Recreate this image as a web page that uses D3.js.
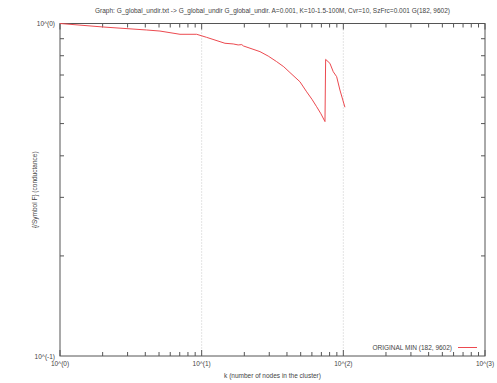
<!DOCTYPE html>
<html lang="en">
<head>
  <meta charset="UTF-8">
  <title>Conductance</title>
  <style>
    body { margin: 0; background: white; }
    text { font-family: "Liberation Sans", Arial, sans-serif; fill: #444; }
  </style>
</head>
<body>
  <svg id="svg" width="497" height="383"></svg>

  <script src="https://d3js.org/d3.v7.min.js"></script>
  <script>
    const titleText = 'Graph: G_global_undir.txt -> G_global_undir G_global_undir. A=0.001, K=10-1.5-100M, Cvr=10, SzFrc=0.001 G(182, 9602)'
    const seriesName = 'ORIGINAL MIN (182, 9602)'
    const xLabel = 'k (number of nodes in the cluster)'
    const yLabel = '{/Symbol F} (conductance)'

    // k values and conductance
    const kValues = [1, 2.02, 4.09, 5.08, 7.03, 9.22, 10.8, 14.6, 16.7, 18.1, 19.2, 19.7, 25.8, 29.5, 33.8, 38, 42.0, 49.4, 55.1, 60, 64.8, 69.5, 74.2, 75.0, 80.4, 84.9, 89.7, 94.6, 102.6]
    const condValues = [1.0, 0.976, 0.956, 0.949, 0.928, 0.928, 0.909, 0.872, 0.868, 0.862, 0.864, 0.856, 0.823, 0.798, 0.768, 0.741, 0.712, 0.668, 0.623, 0.592, 0.562, 0.535, 0.507, 0.780, 0.759, 0.716, 0.692, 0.631, 0.560]

    const xTicks = [1, 10, 100, 1000]
    const xTickLabels = ['10^(0)', '10^(1)', '10^(2)', '10^(3)']
    const yTicks = [0.1, 1]
    const yTickLabels = ['10^(-1)', '10^(0)']

    const mLeft = 60, mRight = 485, mTop = 23.5, mBottom = 356
    const svg = d3.select('#svg')

    const x = d3.scaleLog().domain([1, 1000]).range([mLeft, mRight])
    const y = d3.scaleLog().domain([0.1, 1]).range([mBottom, mTop])

    const axisColor = '#555'
    const fs = 6.5

    // dotted grid at major x ticks
    svg.append('g')
      .selectAll('line')
      .data([10, 100])
      .enter()
      .append('line')
      .attr('x1', d => x(d)).attr('x2', d => x(d))
      .attr('y1', mTop).attr('y2', mBottom)
      .attr('stroke', '#bbb')
      .attr('stroke-width', 0.8)
      .attr('stroke-dasharray', '1,2')

    // minor tick values
    const xMinor = []
    for (let e = 0; e < 3; e++) for (let m = 2; m <= 9; m++) xMinor.push(m * Math.pow(10, e))
    const yMinor = []
    for (let m = 2; m <= 9; m++) yMinor.push(m * 0.1)

    const axes = svg.append('g').attr('stroke', axisColor).attr('stroke-width', 1).attr('fill', 'none')
    // bottom / top x ticks
    axes.selectAll('.xmaj').data(xTicks).enter().append('path')
      .attr('d', d => `M${x(d)},${mBottom}v-6M${x(d)},${mTop}v6`)
    axes.selectAll('.xmin').data(xMinor).enter().append('path')
      .attr('d', d => `M${x(d)},${mBottom}v-4M${x(d)},${mTop}v4`)
    // left / right y ticks
    axes.selectAll('.ymin').data(yMinor).enter().append('path')
      .attr('d', d => `M${mLeft},${y(d)}h4M${mRight},${y(d)}h-4`)

    // frame
    svg.append('rect')
      .attr('x', mLeft).attr('y', mTop)
      .attr('width', mRight - mLeft).attr('height', mBottom - mTop)
      .attr('fill', 'none')
      .attr('stroke', axisColor)
      .attr('stroke-width', 1)

    // tick labels
    svg.append('g').selectAll('text')
      .data(xTicks)
      .enter()
      .append('text')
      .attr('x', d => x(d))
      .attr('y', mBottom + 10)
      .attr('text-anchor', 'middle')
      .attr('font-size', fs)
      .text((d, i) => xTickLabels[i])

    svg.append('g').selectAll('text')
      .data(yTicks)
      .enter()
      .append('text')
      .attr('x', mLeft - 5)
      .attr('y', d => y(d) + 2.5)
      .attr('text-anchor', 'end')
      .attr('font-size', fs)
      .text((d, i) => yTickLabels[i])

    // titles
    svg.append('text')
      .attr('x', (mLeft + mRight) / 2)
      .attr('y', 13)
      .attr('text-anchor', 'middle')
      .attr('font-size', fs)
      .text(titleText)

    svg.append('text')
      .attr('x', (mLeft + mRight) / 2)
      .attr('y', 378)
      .attr('text-anchor', 'middle')
      .attr('font-size', fs)
      .text(xLabel)

    svg.append('text')
      .attr('transform', `translate(37,${(mTop + mBottom) / 2}) rotate(-90)`)
      .attr('text-anchor', 'middle')
      .attr('font-size', fs)
      .text(yLabel)

    // the series
    const data = kValues.map((k, i) => ({ k: k, c: condValues[i] }))
    const line = d3.line().x(d => x(d.k)).y(d => y(d.c))
    svg.append('path')
      .datum(data)
      .attr('d', line)
      .attr('fill', 'none')
      .attr('stroke', '#ec4a50')
      .attr('stroke-width', 1)

    // legend
    svg.append('text')
      .attr('x', 452)
      .attr('y', 350)
      .attr('text-anchor', 'end')
      .attr('font-size', fs)
      .text(seriesName)
    svg.append('line')
      .attr('x1', 458).attr('x2', 477)
      .attr('y1', 347.5).attr('y2', 347.5)
      .attr('stroke', '#ec4a50')
      .attr('stroke-width', 1)
  </script>
</body>
</html>
